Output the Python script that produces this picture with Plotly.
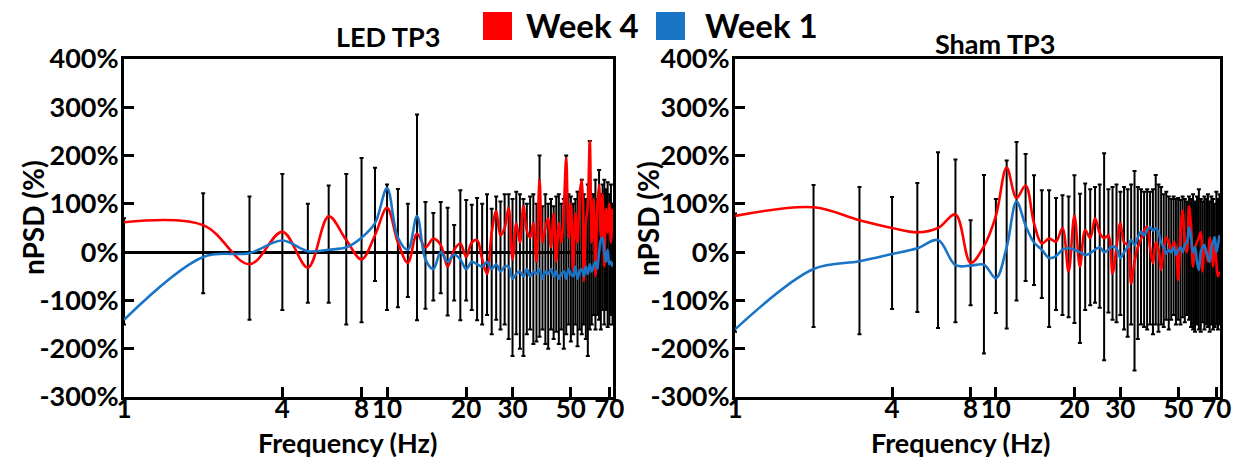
import numpy as np
import plotly.graph_objects as go

# ---------------- data ----------------
freq = list(range(1, 73))

led_week4 = [62, 56, -25, 42, -32, 74, 25, -15, 35, 92,
             20, -22, 38, 10, 28, 15, -30, 5, 18, -10,
             20, 25, -15, -45, 40, 85, 35, 50, 92, -15,
             60, 20, 95, 45, 30, 60, -20, 150, 20, 50,
             70, 10, 80, -20, 60, 20, 90, 195, 30, 100,
             -40, 80, 20, 120, 150, -60, 60, 100, 230, 20,
             110, -50, 90, 140, 30, 120, -30, 90, 40, 100,
             20, 90]
led_week1 = [-140, -10, -2, 24, 2, 5, 10, 30, 60, 132,
             30, 5, 75, -15, -35, 0, -20, -5, -15, -35,
             -20, -25, -30, -20, -35, -25, -40, -30, -30, -55,
             -45, -40, -50, -35, -50, -40, -45, -35, -55, -40,
             -45, -35, -50, -40, -55, -45, -40, -55, -35, -45,
             -50, -30, -55, -40, -35, -50, -30, -45, -25, -40,
             -30, -20, -35, 0, 25, 30, 0, -20, 5, -25,
             -20, -30]
led_bar_top = [70, 122, 115, 162, 100, 138, 162, 195, 175, 140,
               131, 100, 285, 104, 81, 104, 92, 56, 128, 108,
               98, 112, 100, 120, 90, 115, 105, 120, 120, 110,
               125, 120, 110, 100, 115, 120, 100, 200, 95, 120,
               100, 110, 95, 115, 120, 100, 110, 200, 120, 115,
               100, 110, 125, 125, 150, 120, 110, 140, 230, 120,
               120, 150, 110, 170, 120, 140, 150, 130, 145, 120,
               140, 100]
led_bar_bottom = [-150, -85, -140, -120, -105, -105, -150, -145, -60, -120,
                  -114, -93, -141, -117, -100, -85, -131, -100, -141, -100,
                  -120, -141, -150, -130, -170, -140, -160, -150, -180, -215,
                  -170, -200, -215, -170, -160, -190, -185, -175, -160, -190,
                  -200, -160, -180, -165, -190, -160, -200, -170, -150, -185,
                  -170, -150, -195, -160, -170, -150, -180, -215, -160, -150,
                  -130, -160, -130, -140, -160, -120, -150, -120, -155, -150,
                  -130, -150]

sham_week4 = [75, 93, 66, 50, 41, 50, 78, -22, 12, 75,
              175, 112, 138, 60, 18, 28, 22, 50, -40, 76,
              -30, 46, 29, 70, 40, 29, 35, -44, 10, 60,
              20, 15, -65, -20, 10, 27, 45, 53, 10, -23,
              20, 5, -37, 10, 30, 20, 0, 21, 10, -58,
              40, 86, 20, 0, 95, 53, -30, 10, 20, 30,
              41, -40, 10, 0, -20, 30, 10, -30, 20, -20,
              -50, -40]
sham_week1 = [-160, -35, -19, -4, 8, 25, -27, -28, -26, -54,
              10, 105, 55, 20, 5, -12, -8, 5, 8, 5,
              0, -6, -2, 5, 10, 0, 5, 12, 8, -12,
              0, 10, 25, 15, 30, 42, 35, 45, 52, 45,
              50, 40, 20, 10, -3, 5, 0, 10, -5, 5,
              10, 0, 15, 20, 52, 30, 0, 10, -20, -37,
              0, 10, 15, 0, -10, -20, 10, 20, 31, 0,
              15, 35]
sham_bar_top = [80, 139, 135, 114, 143, 207, 192, 66, 160, 110,
                190, 228, 203, 159, 128, 128, 112, 118, 115, 159,
                121, 142, 130, 135, 140, 205, 130, 135, 140, 125,
                135, 130, 140, 168, 135, 130, 125, 130, 125, 130,
                160, 140, 135, 120, 125, 115, 110, 115, 110, 112,
                108, 115, 110, 105, 115, 110, 120, 105, 115, 130,
                110, 105, 115, 110, 120, 105, 115, 110, 100, 125,
                110, 120]
sham_bar_bottom = [-165, -155, -170, -118, -124, -157, -145, -110, -210, -126,
                   -158, -100, -60, -68, -95, -155, -120, -130, -135, -147,
                   -188, -120, -110, -105, -115, -224, -125, -140, -145, -130,
                   -160, -175, -150, -245, -180, -150, -155, -160, -150, -170,
                   -150, -165, -150, -155, -140, -160, -140, -130, -150, -140,
                   -150, -135, -145, -130, -140, -155, -160, -165, -150, -160,
                   -165, -145, -160, -150, -155, -165, -150, -160, -155, -150,
                   -160, -150]

x_tick_vals = [1, 4, 8, 10, 20, 30, 50, 70]
x_tick_text = ["1", "4", "8", "10", "20", "30", "50", "70"]
y_tick_vals = [-300, -200, -100, 0, 100, 200, 300, 400]
y_tick_text = ["-300%", "-200%", "-100%", "0%", "100%", "200%", "300%", "400%"]

panel_titles = ["LED TP3", "Sham TP3"]
series_names = ["Week 4", "Week 1"]
x_title = "Frequency (Hz)"
y_title = "nPSD (%)"

# ---------------- styling ----------------
W, H = 1234, 459
RED = "#ff0000"
BLUE = "#1b75c6"
FONT = "Lato"


def px_x(p):
    return p / W


def px_y(p):
    return 1 - p / H


fig = go.Figure()

panels = [
    (led_week4, led_week1, led_bar_top, led_bar_bottom, "x", "y"),
    (sham_week4, sham_week1, sham_bar_top, sham_bar_bottom, "x2", "y2"),
]

for wk4, wk1, top, bot, xa, ya in panels:
    wk4a = np.array(wk4, dtype=float)
    up = np.clip(np.array(top, dtype=float) - wk4a, 0, None)
    dn = np.clip(wk4a - np.array(bot, dtype=float), 0, None)
    fig.add_trace(go.Scatter(
        x=freq, y=wk4, mode="markers", xaxis=xa, yaxis=ya,
        marker=dict(size=2, color="black"),
        error_y=dict(type="data", symmetric=False, array=up, arrayminus=dn,
                     color="black", thickness=2, width=2),
        showlegend=False, hoverinfo="skip"))
    fig.add_trace(go.Scatter(
        x=freq, y=wk4, mode="lines", xaxis=xa, yaxis=ya, name=series_names[0],
        line=dict(color=RED, width=2.6, shape="spline", smoothing=1.0),
        showlegend=False))
    fig.add_trace(go.Scatter(
        x=freq, y=wk1, mode="lines", xaxis=xa, yaxis=ya, name=series_names[1],
        line=dict(color=BLUE, width=2.6, shape="spline", smoothing=1.0),
        showlegend=False))

ytickfont = dict(family=FONT, size=27, color="black", weight="bold")
xtickfont = dict(family=FONT, size=26, color="black", weight="bold")

xcommon = dict(type="log", range=[0, np.log10(72.3)], tickvals=x_tick_vals,
               ticktext=x_tick_text, ticks="inside", ticklen=10, tickwidth=3,
               tickcolor="black", showline=True, linewidth=3, linecolor="black",
               mirror=True, showgrid=False, zeroline=False, tickfont=xtickfont,
               tickangle=0, automargin=False, ticklabelstandoff=-13)
ycommon = dict(range=[-300, 400], tickvals=y_tick_vals, ticktext=y_tick_text,
               ticks="inside", ticklen=10, tickwidth=3, tickcolor="black",
               showline=True, linewidth=3, linecolor="black", mirror=True,
               showgrid=False, tickfont=ytickfont, automargin=False,
               ticklabelstandoff=-3, domain=[px_y(397), px_y(59)])

fig.update_layout(
    width=W, height=H, margin=dict(l=0, r=0, t=0, b=0, autoexpand=False),
    paper_bgcolor="white", plot_bgcolor="white",
    xaxis=dict(xcommon, domain=[px_x(124), px_x(613)], anchor="y"),
    xaxis2=dict(xcommon, domain=[px_x(735), px_x(1220)], anchor="y2"),
    yaxis=dict(ycommon, anchor="x", zeroline=True, zerolinecolor="black",
               zerolinewidth=3),
    yaxis2=dict(ycommon, anchor="x2", zeroline=False),
    showlegend=False,
)


def label(text, x, y, size, angle=0, xanchor="center"):
    fig.add_annotation(text=text, x=px_x(x), y=px_y(y), xref="paper",
                       yref="paper", showarrow=False, textangle=angle,
                       xanchor=xanchor, yanchor="middle",
                       font=dict(family=FONT, size=size, color="black",
                                 weight="bold"))


# subplot titles
label(panel_titles[0], 388, 37, 27)
label(panel_titles[1], 995, 44, 27)
# axis titles
label(x_title, 347, 442, 27)
label(x_title, 960, 442, 27)
label(y_title, 33, 218, 28, angle=-90)
label(y_title, 648, 218, 28, angle=-90)

# legend (squares + labels)
for (x0, x1, col, name, tx) in [(483, 512, RED, series_names[0], 524),
                                (656, 685, BLUE, series_names[1], 703)]:
    fig.add_shape(type="rect", xref="paper", yref="paper",
                  x0=px_x(x0), x1=px_x(x1), y0=px_y(40), y1=px_y(12),
                  fillcolor=col, line=dict(width=0))
    label(name, tx, 25, 33, xanchor="left")

fig.write_html("out.html")
